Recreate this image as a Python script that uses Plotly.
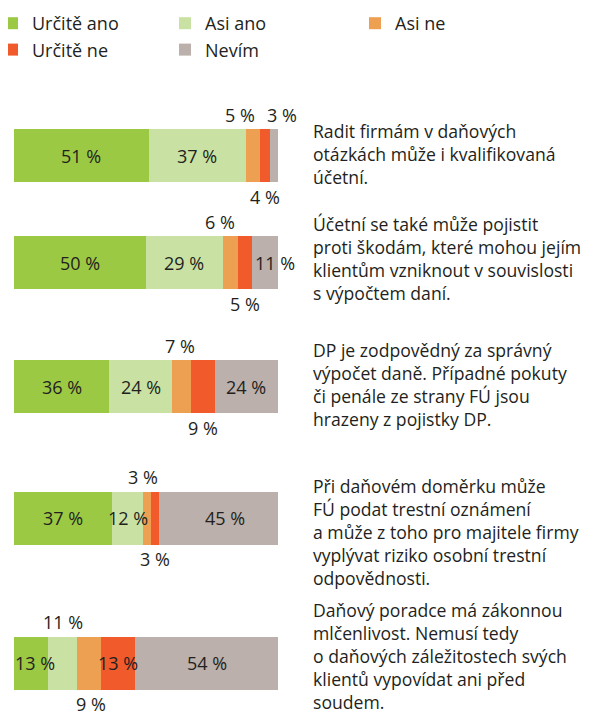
import plotly.graph_objects as go

# survey answers, percent of respondents
series_names = ["Určitě ano", "Asi ano", "Asi ne", "Určitě ne", "Nevím"]
urcite_ano = [51, 50, 36, 37, 13]
asi_ano = [37, 29, 24, 12, 11]
asi_ne = [5, 6, 7, 3, 9]
urcite_ne = [4, 5, 9, 3, 13]
nevim = [3, 11, 24, 45, 54]

statements = [
    ["Radit firmám v daňových", "otázkách může i kvalifikovaná", "účetní."],
    ["Účetní se také může pojistit", "proti škodám, které mohou jejím",
     "klientům vzniknout v souvislosti", "s výpočtem daní."],
    ["DP je zodpovědný za správný", "výpočet daně. Případné pokuty",
     "či penále ze strany FÚ jsou", "hrazeny z pojistky DP."],
    ["Při daňovém doměrku může", "FÚ podat trestní oznámení",
     "a může z toho pro majitele firmy", "vyplývat riziko osobní trestní",
     "odpovědnosti."],
    ["Daňový poradce má zákonnou", "mlčenlivost. Nemusí tedy",
     "o daňových záležitostech svých", "klientů vypovídat ani před", "soudem."],
]

# layout, in page pixels (the page body adds an 8px margin)
PAD = 8
W, H = 603 - PAD, 718 - PAD
row_y = [155.5, 262.5, 386.5, 518, 663]
text_y = [131.5, 224, 350, 486.5, 610.5]   # first line of each statement
line_step = 22.8
text_size = 17.6                           # plotly line spacing is 1.3 x size
bar_h = 53
bar_left, bar_right = 14, 278
text_left = 311
legend_text_x = [32, 205, 395]
colors = ["#9BC944", "#C9E2A3", "#EDA052", "#F15A2B", "#BBB0AB"]
ink = "#231F20"
font = "Open Sans"

# legend columns: which legend each series goes to
legend_of = ["legend", "legend2", "legend3", "legend", "legend2"]

# where each value label sits: in / above / below, plus pixel nudges
label_pos = [
    ["in", "in", "above", "below", "above"],
    ["in", "in", "above", "below", "in"],
    ["in", "in", "above", "below", "in"],
    ["in", "in", "above", "below", "in"],
    ["in", "above", "below", "in", "in"],
]
label_dx = [
    [0, 0, -13, 0, 8],
    [0, 0, -10, 0, 9],
    [0, 0, -2, 0, 0],
    [0, 0, -4, 0, 6],
    [4, 0, 2, 0, 0],
]

series = [urcite_ano, asi_ano, asi_ne, urcite_ne, nevim]

fig = go.Figure()
for name, vals, col, lg in zip(series_names, series, colors, legend_of):
    fig.add_trace(go.Bar(
        x=vals, y=row_y, orientation="h", name=name, width=bar_h,
        marker=dict(color=col, line=dict(width=0)), hoverinfo="skip",
        legend=lg,
    ))

# value labels
for i in range(len(row_y)):
    left = 0
    for j, vals in enumerate(series):
        v = vals[i]
        mid = left + v / 2
        left += v
        dy = {"in": 0, "above": 41, "below": -41}[label_pos[i][j]]
        fig.add_annotation(
            x=mid, y=row_y[i], xref="x", yref="y", text=f"{v} %",
            showarrow=False, xshift=label_dx[i][j], yshift=dy,
            font=dict(family=font, size=18, color=ink),
        )

# statements on the right
for lines, y0 in zip(statements, text_y):
    fig.add_annotation(
        x=(text_left - PAD) / W, y=y0 + (len(lines) - 1) * line_step / 2,
        xref="paper", yref="y", text="<br>".join(lines), showarrow=False,
        xanchor="left", yanchor="middle", align="left",
        font=dict(family=font, size=text_size, color=ink),
    )

legend_style = dict(
    orientation="v", y=1 + 3 / H, xanchor="left", yanchor="top", traceorder="normal",
    font=dict(family=font, size=18, color=ink), bgcolor="rgba(0,0,0,0)",
)
fig.update_layout(
    width=W, height=H, barmode="stack",
    margin=dict(l=0, r=0, t=0, b=0, autoexpand=False),
    paper_bgcolor="white", plot_bgcolor="white",
    xaxis=dict(domain=[(bar_left - PAD) / W, (bar_right - PAD) / W], range=[0, 100],
               visible=False, fixedrange=True),
    yaxis=dict(range=[H + PAD, PAD], visible=False, fixedrange=True),
    legend=dict(x=(legend_text_x[0] - 40 - PAD) / W, **legend_style),
    legend2=dict(x=(legend_text_x[1] - 40 - PAD) / W, **legend_style),
    legend3=dict(x=(legend_text_x[2] - 40 - PAD) / W, **legend_style),
    showlegend=True,
)

fig.write_html("out.html")
